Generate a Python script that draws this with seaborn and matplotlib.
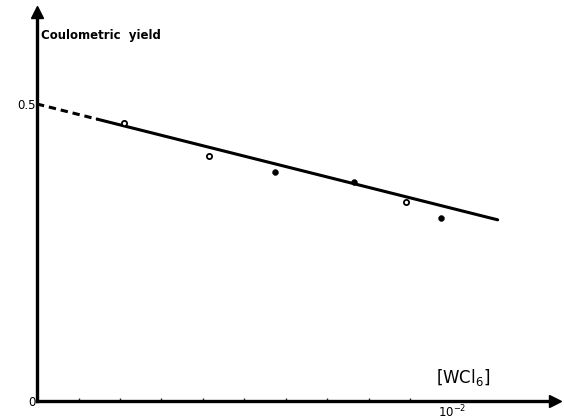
import matplotlib
matplotlib.use("Agg")
import matplotlib.pyplot as plt
import seaborn as sns
import pandas as pd

# data (x in units of 1e-3 M WCl6)
conc = [2.10, 4.14, 5.73, 7.64, 8.89, 9.73]
yield_vals = [0.468, 0.412, 0.386, 0.369, 0.335, 0.308]
open_marker = [True, True, False, False, True, False]

# fitted line: dashed extrapolation + solid part
dash_x = [0.0, 1.45]
dash_y = [0.500, 0.4745]
solid_x = [1.45, 11.1]
solid_y = [0.4745, 0.305]

yticks = [0, 0.1, 0.2, 0.3, 0.4, 0.5]
ytick_labels = ["0", "", "", "", "", "0.5"]

sns.set_style("white")
plt.rcParams["font.family"] = ["DejaVu Sans"]
plt.rcParams["text.color"] = "black"

fig = plt.figure(figsize=(5.64, 4.2), dpi=100)
ax = fig.add_axes([37 / 564, 19 / 420, (555 - 37) / 564, (401 - 12) / 420])

df = pd.DataFrame({"conc": conc, "yield": yield_vals, "open": open_marker})

sns.lineplot(x=dash_x, y=dash_y, ax=ax, color="black", lw=2.2, linestyle=(0, (2.4, 1.6)))
sns.lineplot(x=solid_x, y=solid_y, ax=ax, color="black", lw=2.2)
sns.scatterplot(data=df[~df["open"]], x="conc", y="yield", ax=ax, color="black",
                s=18, edgecolor="black", zorder=5)
sns.scatterplot(data=df[df["open"]], x="conc", y="yield", ax=ax, facecolor="white",
                s=14, edgecolor="black", linewidth=1.3, zorder=5)

ax.set_xlim(0, (555 - 37) / 41.5)
ax.set_ylim(0, (401 - 12) / 594)

sns.despine(ax=ax)
for side in ["left", "bottom"]:
    ax.spines[side].set_linewidth(2.4)
    ax.spines[side].set_color("black")

# arrow heads on the axes
ax.plot([0], [1.0], marker="^", color="black", markersize=8, transform=ax.transAxes, clip_on=False)
ax.plot([1.0], [0], marker=">", color="black", markersize=8, transform=ax.transAxes, clip_on=False)

ax.set_yticks(yticks)
ax.set_yticklabels(ytick_labels)
ax.set_xticks([10])
ax.set_xticklabels(["$10^{-2}$"])
ax.set_xticks([1, 2, 3, 4, 5, 6, 7, 8, 9], minor=True)
ax.tick_params(axis="y", direction="in", length=5, width=1.5, pad=1, labelsize=8.5)
ax.tick_params(axis="x", which="major", direction="in", length=4, width=1.2, pad=2, labelsize=8.5)
ax.tick_params(axis="x", which="minor", direction="in", length=2.5, width=1, bottom=True)
ax.tick_params(axis="both", colors="black", labelcolor="black")

ax.set_xlabel("")
ax.set_ylabel("")
ax.grid(False)

ax.text(0.008, 0.94, "Coulometric  yield", transform=ax.transAxes, fontsize=8.5,
        fontweight="bold", ha="left", va="center", color="black")
ax.text(0.77, 0.06, r"$\left[\mathrm{WCl_6}\right]$", transform=ax.transAxes,
        fontsize=12, ha="left", va="center", color="black")

fig.savefig("out.png", dpi=100)
